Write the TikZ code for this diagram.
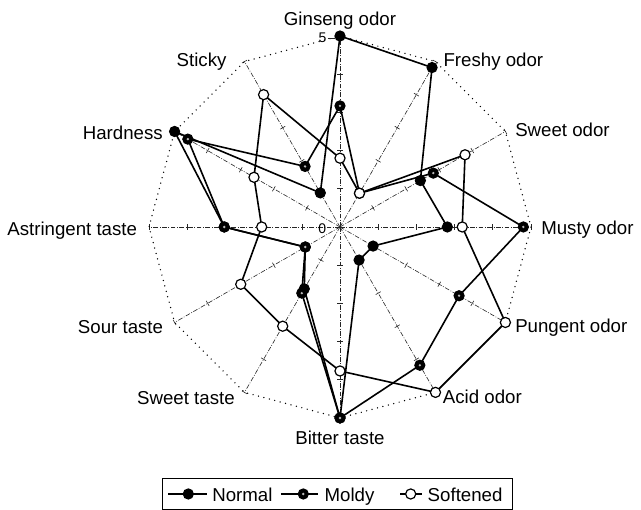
\documentclass[tikz,border=0pt]{standalone}
\usepackage{fontspec}
\setmainfont{Liberation Sans}
\begin{document}
\begin{tikzpicture}[x=28.65pt,y=28.65pt,
  axisline/.style={line width=0.45pt, black!85, dash pattern=on 3.5pt off 1.2pt on 0.6pt off 1.2pt},
  tickmark/.style={line width=0.45pt, black!85},
  rim/.style={line width=1.1pt, line cap=round, dash pattern=on 0pt off 4.2pt},
  series/.style={line width=1.2pt, line join=round},
  nmark/.style={circle, draw=black, fill=black, line width=0.8pt, minimum size=7.6pt, inner sep=0pt},
  mmark/.style={circle, draw=black, fill=black, line width=0.8pt, minimum size=7.6pt, inner sep=0pt,
    path picture={\fill[gray!55] (path picture bounding box.center) circle (1pt);}},
  smark/.style={circle, draw=black, fill=white, line width=0.9pt, minimum size=7.6pt, inner sep=0pt},
  lbl/.style={font=\fontsize{14}{16}\selectfont, inner sep=0pt},
  scl/.style={font=\fontsize{10.5}{12}\selectfont, inner sep=0pt},
]
\useasboundingbox (-8.901,-7.408) rectangle (7.880,5.942);
\fill[white] (-8.901,-7.408) rectangle (7.880,5.942);

\coordinate (O) at (0,0);
% axes
\foreach \a [count=\i] in {90,60,30,0,-30,-60,-90,-120,-150,180,150,120}{
  \coordinate (A\i) at (\a:5);
  \draw[axisline] (O) -- (A\i);
  \foreach \k in {1,...,5}{
    \draw[tickmark, shift={(\a:\k)}, rotate=\a] (0,-0.075) -- (0,0.075);
  }
}
% outer rim
\draw[rim] (A1) -- (A2) -- (A3) -- (A4) -- (A5) -- (A6) -- (A7) -- (A8) -- (A9) -- (A10) -- (A11) -- (A12) -- cycle;

% data points
\foreach \a/\v [count=\i] in {90/5.0, 60/4.82, 30/2.43, 0/2.81, -30/1.0, -60/1.0, -90/5.0, -120/1.87, -150/1.05, 180/3.03, 150/5.0, 120/1.03}{
  \coordinate (N\i) at (\a:\v);
}
\foreach \a/\v [count=\i] in {90/3.17, 60/1.02, 30/2.82, 0/4.8, -30/3.6, -60/4.18, -90/5.0, -120/2.0, -150/1.05, 180/3.03, 150/4.6, 120/1.83}{
  \coordinate (M\i) at (\a:\v);
}
\foreach \a/\v [count=\i] in {90/1.8, 60/1.02, 30/3.78, 0/3.2, -30/5.0, -60/5.0, -90/3.77, -120/3.0, -150/3.0, 180/2.05, 150/2.6, 120/4.0}{
  \coordinate (S\i) at (\a:\v);
}

\draw[series] (S1) -- (S2) -- (S3) -- (S4) -- (S5) -- (S6) -- (S7) -- (S8) -- (S9) -- (S10) -- (S11) -- (S12) -- cycle;
\draw[series] (M1) -- (M2) -- (M3) -- (M4) -- (M5) -- (M6) -- (M7) -- (M8) -- (M9) -- (M10) -- (M11) -- (M12) -- cycle;
\draw[series] (N1) -- (N2) -- (N3) -- (N4) -- (N5) -- (N6) -- (N7) -- (N8) -- (N9) -- (N10) -- (N11) -- (N12) -- cycle;

\foreach \i in {1,...,12}{ \node[nmark] (n\i) at (N\i) {}; }
\foreach \i in {1,...,12}{ \node[mmark] (m\i) at (M\i) {}; }
\foreach \i in {1,...,12}{ \node[smark] (s\i) at (S\i) {}; }

% scale labels
\node[scl] (five) at (-0.458,4.948) {5};
\coordinate (fa) at (-0.32,4.925);
\coordinate (fb) at (-0.12,4.925);
\draw[tickmark, line width=0.6pt] (fa) -- (fb);
\node[scl] (zero) at (-0.463,-0.034) {0};

% axis labels
\node[lbl, anchor=base] (l1) at (0,5.262) {Ginseng odor};
\node[lbl, anchor=base west] (l2) at (2.704,4.196) {Freshy odor};
\node[lbl, anchor=base west] (l3) at (4.581,2.364) {Sweet odor};
\node[lbl, anchor=base west] (l4) at (5.262,-0.20) {Musty odor};
\node[lbl, anchor=base west] (l5) at (4.581,-2.75) {Pungent odor};
\node[lbl, anchor=base west] (l6) at (2.688,-4.634) {Acid odor};
\node[lbl, anchor=base] (l7) at (0,-5.707) {Bitter taste};
\node[lbl, anchor=base east] (l8) at (-2.749,-4.64) {Sweet taste};
\node[lbl, anchor=base east] (l9) at (-4.625,-2.80) {Sour taste};
\node[lbl, anchor=base east] (l10) at (-5.306,-0.236) {Astringent taste};
\node[lbl, anchor=base east] (l11) at (-4.634,2.29) {Hardness};
\node[lbl, anchor=base east] (l12) at (-2.966,4.196) {Sticky};

% legend
\node[draw, line width=0.6pt, minimum width=262.3pt, minimum height=23.2pt, inner sep=0pt] (legend) at (-0.0745,-6.9845) {};
\coordinate (La1) at (-4.495,-6.99); \coordinate (Lb1) at (-3.490,-6.99);
\draw[series, line width=1pt] (La1) -- (Lb1);
\node[nmark] (Lm1) at (-3.971,-6.99) {};
\node[lbl, anchor=base west] (Lt1) at (-3.35,-7.19) {Normal};
\coordinate (La2) at (-1.545,-6.99); \coordinate (Lb2) at (-0.568,-6.99);
\draw[series, line width=1pt] (La2) -- (Lb2);
\node[mmark] (Lm2) at (-0.961,-6.99) {};
\node[lbl, anchor=base west] (Lt2) at (-0.41,-7.19) {Moldy};
\coordinate (La3) at (1.571,-6.99); \coordinate (Lb3) at (2.139,-6.99);
\draw[series, line width=1pt] (La3) -- (Lb3);
\node[smark] (Lm3) at (1.851,-6.99) {};
\node[lbl, anchor=base west] (Lt3) at (2.29,-7.19) {Softened};
\end{tikzpicture}
\end{document}
